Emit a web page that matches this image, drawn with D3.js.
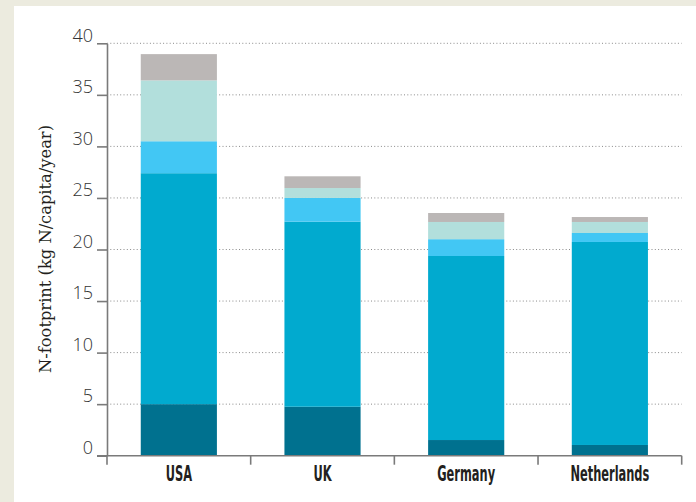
<!DOCTYPE html>
<html>
<head>
<meta charset="utf-8">
<script src="https://cdn.jsdelivr.net/npm/d3@7"></script>
<style>
  html, body { margin: 0; padding: 0; background: #ecebdf; }
  svg { display: block; }
</style>
</head>
<body>
<svg id="chart" width="696" height="502"></svg>
<script>
const categories = ["USA", "UK", "Germany", "Netherlands"];
const seriesNames = ["s1", "s2", "s3", "s4", "s5"];
const s1 = [5.0, 4.75, 1.52, 1.04];
const s2 = [22.4, 17.95, 17.85, 19.69];
const s3 = [3.1, 2.3, 1.63, 0.87];
const s4 = [5.9, 0.96, 1.67, 1.07];
const s5 = [2.55, 1.14, 0.87, 0.48];
const seriesColors = ["#00718f", "#01aacf", "#42c7f4", "#b2dfdc", "#bbb7b6"];
const yTicks = [0, 5, 10, 15, 20, 25, 30, 35, 40];
const yLabel = "N-footprint (kg N/capita/year)";

const svg = d3.select("#chart");
svg.append("rect").attr("x", 14).attr("y", 6).attr("width", 682).attr("height", 496).attr("fill", "#ffffff");

const x = d3.scaleBand().domain(categories).range([107, 681.7]).paddingInner(0.47).paddingOuter(0.235);
const y = d3.scaleLinear().domain([0, 40]).range([455.7, 43.3]);

const rows = categories.map((c, i) => ({cat: c, s1: s1[i], s2: s2[i], s3: s3[i], s4: s4[i], s5: s5[i]}));
const stacked = d3.stack().keys(seriesNames)(rows);

// grid
svg.append("g").selectAll("line").data(yTicks.filter(t => t > 0)).join("line")
  .attr("x1", 107).attr("x2", 681.7)
  .attr("y1", d => y(d)).attr("y2", d => y(d))
  .attr("stroke", "#8a8a8a").attr("stroke-width", 1).attr("stroke-dasharray", "1,2.3");

// bars
svg.append("g").selectAll("g").data(stacked).join("g")
  .attr("fill", (d, i) => seriesColors[i])
  .selectAll("rect").data(d => d).join("rect")
  .attr("x", d => x(d.data.cat))
  .attr("width", x.bandwidth())
  .attr("y", d => y(d[1]))
  .attr("height", d => y(d[0]) - y(d[1]));

// y axis
const yAxis = d3.axisLeft(y).tickValues(yTicks).tickSize(10).tickSizeOuter(0).tickPadding(4);
const gy = svg.append("g").attr("transform", "translate(107,0)").call(yAxis);
gy.select(".domain").attr("stroke", "#7a7a7a").attr("stroke-width", 1.6);
gy.selectAll(".tick line").attr("stroke", "#7a7a7a").attr("stroke-width", 1.6);
gy.selectAll(".tick text")
  .attr("font-family", "'Open Sans', 'Liberation Sans', sans-serif")
  .attr("font-weight", 300)
  .attr("font-size", 18)
  .attr("fill", "#333")
  .attr("dy", "-0.12em");

// x axis: boundary ticks
const step = x.step();
const bounds = d3.range(categories.length + 1).map(i => 107 + i * step);
svg.append("line").attr("x1", 97).attr("x2", 681.7).attr("y1", y(0)).attr("y2", y(0))
  .attr("stroke", "#7a7a7a").attr("stroke-width", 1.6);
svg.append("g").selectAll("line").data(bounds).join("line")
  .attr("x1", d => d).attr("x2", d => d)
  .attr("y1", y(0)).attr("y2", y(0) + 9)
  .attr("stroke", "#7a7a7a").attr("stroke-width", 1.6);

// x labels
const xl = svg.append("g").selectAll("text").data(categories).join("text")
  .attr("font-family", "'DejaVu Sans Condensed', 'DejaVu Sans', sans-serif")
  .attr("font-weight", "bold")
  .attr("font-size", 20.5)
  .attr("fill", "#231f20")
  .attr("text-anchor", "middle")
  .text(d => d);
(function() {
  const nl = xl.filter(d => d === "Netherlands").node();
  const sx = 79 / nl.getComputedTextLength();
  xl.attr("transform", d => `translate(${x(d) + x.bandwidth() / 2},481) scale(${sx},1)`);
})();

// y label
svg.append("text")
  .attr("transform", "translate(51,249) rotate(-90)")
  .attr("text-anchor", "middle")
  .attr("font-family", "'DejaVu Serif', 'Liberation Serif', serif")
  .attr("font-size", 16.3)
  .attr("fill", "#231f20")
  .text(yLabel);
</script>
</body>
</html>
